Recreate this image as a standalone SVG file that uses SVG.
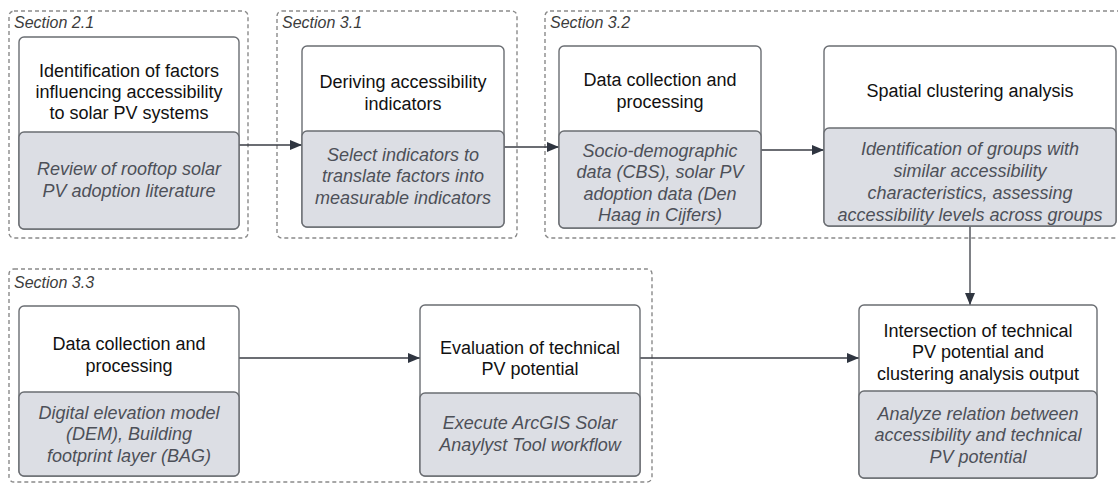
<svg xmlns="http://www.w3.org/2000/svg" width="1118" height="484" viewBox="0 0 1118 484">
  <defs>
    <marker id="arrow" viewBox="0 0 12 10" refX="12" refY="5" markerWidth="12" markerHeight="10" markerUnits="userSpaceOnUse" orient="auto">
      <path d="M0,0 L12,5 L0,10 Z" fill="#2f3540"/>
    </marker>
  </defs>
  <style>
    .section { fill: none; stroke: #8a8a8a; stroke-width: 1.4; stroke-dasharray: 4 3; }
    .sec-label { font-family: "Liberation Sans", Arial, sans-serif; font-style: italic; font-size: 16px; fill: #3c3c3c; }
    .box-top { fill: #ffffff; stroke: #6a6d72; stroke-width: 1.4; }
    .box-bot { fill: #dcdee4; stroke: #6a6d72; stroke-width: 1.4; }
    .title { font-family: "Liberation Sans", Arial, sans-serif; font-size: 18px; fill: #111111; text-anchor: middle; }
    .sub { font-family: "Liberation Sans", Arial, sans-serif; font-style: italic; font-size: 18px; fill: #4d5058; text-anchor: middle; }
    .conn { fill: none; stroke: #3a3d44; stroke-width: 1.3; marker-end: url(#arrow); }
  </style>

  <!-- Section frames -->
  <g id="sections">
    <rect class="section" x="9" y="11" width="239" height="227" rx="5"/>
    <text class="sec-label" x="14" y="28">Section 2.1</text>
    <rect class="section" x="277" y="11" width="240" height="227" rx="5"/>
    <text class="sec-label" x="282" y="28">Section 3.1</text>
    <rect class="section" x="545" y="11" width="600" height="227" rx="5"/>
    <text class="sec-label" x="550" y="28">Section 3.2</text>
    <rect class="section" x="9" y="269" width="643" height="213" rx="5"/>
    <text class="sec-label" x="14" y="288">Section 3.3</text>
  </g>

  <!-- Connectors -->
  <g id="connectors">
    <line class="conn" x1="239" y1="145" x2="302" y2="145"/>
    <line class="conn" x1="504" y1="147" x2="559" y2="147"/>
    <line class="conn" x1="761" y1="150" x2="824" y2="150"/>
    <line class="conn" x1="970" y1="226" x2="970" y2="305"/>
    <line class="conn" x1="239" y1="358" x2="420" y2="358"/>
    <line class="conn" x1="640" y1="358" x2="859" y2="358"/>
  </g>

  <!-- Identification of factors -->
  <g id="node-factors">
    <rect class="box-top" x="19" y="37" width="220" height="192" rx="5"/>
    <rect class="box-bot" x="19" y="132" width="220" height="97" rx="5"/>
    <text class="title" x="129" y="76.5">Identification of factors</text>
    <text class="title" x="129" y="97.5">influencing accessibility</text>
    <text class="title" x="129" y="118.5">to solar PV systems</text>
    <text class="sub" x="129" y="174.5">Review of rooftop solar</text>
    <text class="sub" x="129" y="196.5">PV adoption literature</text>
  </g>

  <!-- Deriving indicators -->
  <g id="node-indicators">
    <rect class="box-top" x="302" y="46" width="202" height="181" rx="5"/>
    <rect class="box-bot" x="302" y="131" width="202" height="96" rx="5"/>
    <text class="title" x="403" y="88">Deriving accessibility</text>
    <text class="title" x="403" y="109.5">indicators</text>
    <text class="sub" x="403" y="160.5">Select indicators to</text>
    <text class="sub" x="403" y="182">translate factors into</text>
    <text class="sub" x="403" y="203.5">measurable indicators</text>
  </g>

  <!-- Data collection (socio-demographic) -->
  <g id="node-data-socio">
    <rect class="box-top" x="559" y="46" width="202" height="182" rx="5"/>
    <rect class="box-bot" x="559" y="131" width="202" height="97" rx="5"/>
    <text class="title" x="660" y="86">Data collection and</text>
    <text class="title" x="660" y="108">processing</text>
    <text class="sub" x="660" y="156.5">Socio-demographic</text>
    <text class="sub" x="660" y="178">data (CBS), solar PV</text>
    <text class="sub" x="660" y="199.5">adoption data (Den</text>
    <text class="sub" x="660" y="221">Haag in Cijfers)</text>
  </g>

  <!-- Spatial clustering -->
  <g id="node-clustering">
    <rect class="box-top" x="824" y="46" width="292" height="180" rx="5"/>
    <rect class="box-bot" x="824" y="128" width="292" height="98" rx="5"/>
    <text class="title" x="970" y="96.5">Spatial clustering analysis</text>
    <text class="sub" x="970" y="154.5">Identification of groups with</text>
    <text class="sub" x="970" y="176.5">similar accessibility</text>
    <text class="sub" x="970" y="198.5">characteristics, assessing</text>
    <text class="sub" x="970" y="220.5">accessibility levels across groups</text>
  </g>

  <!-- Data collection (elevation) -->
  <g id="node-data-elevation">
    <rect class="box-top" x="19" y="306" width="220" height="170" rx="5"/>
    <rect class="box-bot" x="19" y="392" width="220" height="84" rx="5"/>
    <text class="title" x="129" y="349.5">Data collection and</text>
    <text class="title" x="129" y="371.5">processing</text>
    <text class="sub" x="129" y="418.5">Digital elevation model</text>
    <text class="sub" x="129" y="440">(DEM), Building</text>
    <text class="sub" x="129" y="461.5">footprint layer (BAG)</text>
  </g>

  <!-- Technical PV potential -->
  <g id="node-pv-potential">
    <rect class="box-top" x="420" y="305" width="220" height="171" rx="5"/>
    <rect class="box-bot" x="420" y="393" width="220" height="83" rx="5"/>
    <text class="title" x="530" y="353.5">Evaluation of technical</text>
    <text class="title" x="530" y="374.5">PV potential</text>
    <text class="sub" x="530" y="428.5">Execute ArcGIS Solar</text>
    <text class="sub" x="530" y="450.5">Anaylyst Tool workflow</text>
  </g>

  <!-- Intersection -->
  <g id="node-intersection">
    <rect class="box-top" x="859" y="305" width="238" height="173" rx="5"/>
    <rect class="box-bot" x="859" y="391" width="238" height="87" rx="5"/>
    <text class="title" x="978" y="336.5">Intersection of technical</text>
    <text class="title" x="978" y="358">PV potential and</text>
    <text class="title" x="978" y="379.5">clustering analysis output</text>
    <text class="sub" x="978" y="419.5">Analyze relation between</text>
    <text class="sub" x="978" y="441">accessibility and technical</text>
    <text class="sub" x="978" y="462.5">PV potential</text>
  </g>
</svg>
